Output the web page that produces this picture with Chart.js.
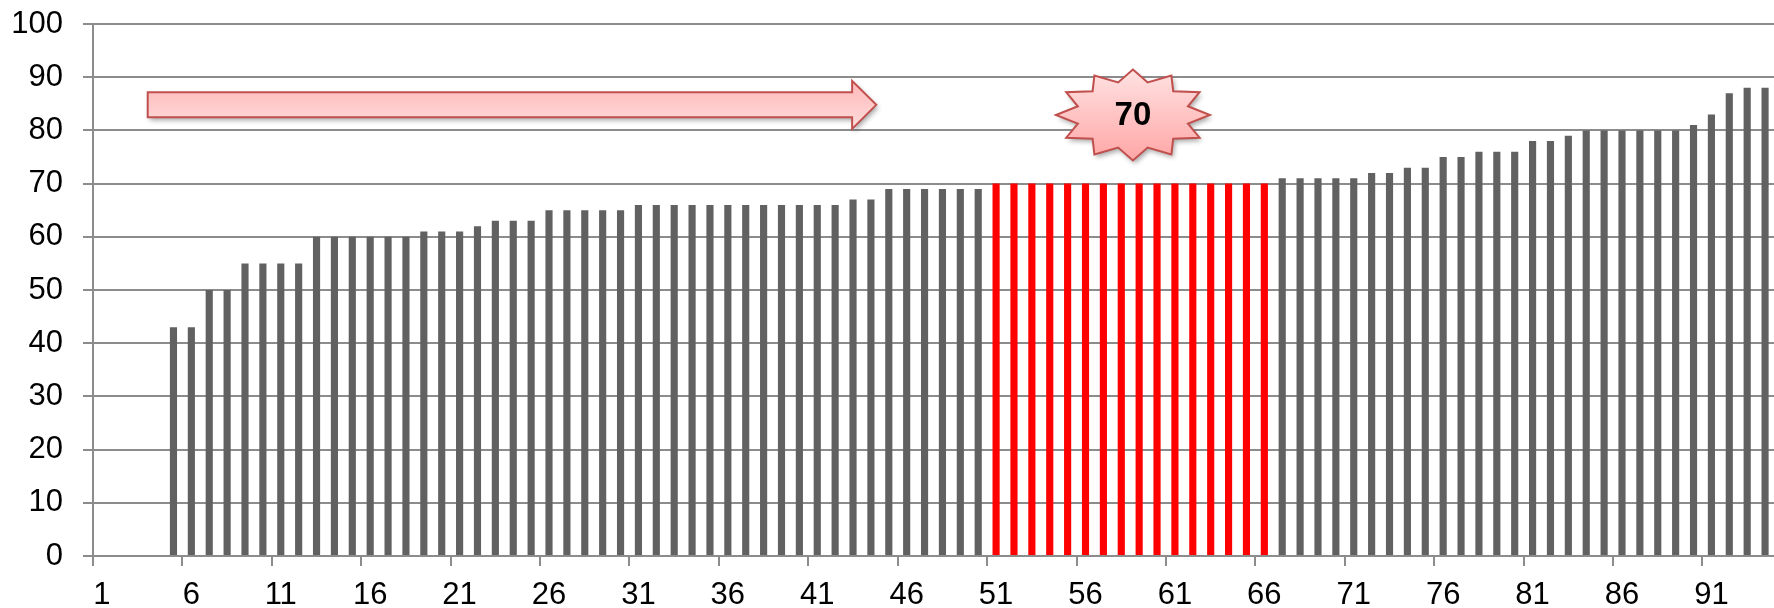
<!DOCTYPE html>
<html>
<head>
<meta charset="utf-8">
<script src="https://cdn.jsdelivr.net/npm/chart.js@4.4.1/dist/chart.umd.min.js"></script>
<style>
    html, body { margin: 0; padding: 0; background: #fff; overflow: hidden; }
    #wrap { width: 1774px; height: 608px; }
</style>
</head>
<body>
<div id="wrap"><canvas id="scoreChart"></canvas></div>
<script>
// Data
const categories = [];
for (let i = 1; i <= 94; i++) categories.push(String(i));

const scores = [
    null, null, null, null, 43, 43, 50, 50, 55, 55,
    55, 55, 60, 60, 60, 60, 60, 60, 61, 61,
    61, 62, 63, 63, 63, 65, 65, 65, 65, 65,
    66, 66, 66, 66, 66, 66, 66, 66, 66, 66,
    66, 66, 67, 67, 69, 69, 69, 69, 69, 69,
    70, 70, 70, 70, 70, 70, 70, 70, 70, 70,
    70, 70, 70, 70, 70, 70, 71, 71, 71, 71,
    71, 72, 72, 73, 73, 75, 75, 76, 76, 76,
    78, 78, 79, 80, 80, 80, 80, 80, 80, 81,
    83, 87, 88, 88
];

const yTicks = [0, 10, 20, 30, 40, 50, 60, 70, 80, 90, 100];
const median = 70;
const medianLabel = '70';

const barColors = scores.map(v => v === median ? '#ff0000' : '#616161');

// Shapes drawn on top: arrow and 12-point star (positions in category index / value units)
const arrowShape = { from: 2.56, headBase: 41.95, tip: 43.3, value: 84.8, bodyHalf: 12.5, headHalf: 24 };
const starShape = { index: 57.65, value: 82.9, rx: 77, ry: 45.5, inner: 0.74 };

function catX(chart, f) {
    const x = chart.scales.x;
    const x0 = x.getPixelForValue(0);
    const step = x.getPixelForValue(1) - x0;
    return x0 + f * step;
}

function dropShadow(ctx) {
    ctx.shadowColor = 'rgba(0,0,0,0.35)';
    ctx.shadowBlur = 5;
    ctx.shadowOffsetX = 2;
    ctx.shadowOffsetY = 3;
}

const shapesPlugin = {
    id: 'shapes',
    afterDraw(chart) {
        const ctx = chart.ctx;
        const y = chart.scales.y;

        // Arrow
        const a = arrowShape;
        const ax0 = catX(chart, a.from);
        const axb = catX(chart, a.headBase);
        const axt = catX(chart, a.tip);
        const ay = y.getPixelForValue(a.value);
        ctx.save();
        ctx.beginPath();
        ctx.moveTo(ax0, ay - a.bodyHalf);
        ctx.lineTo(axb, ay - a.bodyHalf);
        ctx.lineTo(axb, ay - a.headHalf);
        ctx.lineTo(axt, ay);
        ctx.lineTo(axb, ay + a.headHalf);
        ctx.lineTo(axb, ay + a.bodyHalf);
        ctx.lineTo(ax0, ay + a.bodyHalf);
        ctx.closePath();
        let g = ctx.createLinearGradient(0, ay - a.headHalf, 0, ay + a.headHalf);
        g.addColorStop(0, '#ffb8b8');
        g.addColorStop(1, '#ffdcdc');
        dropShadow(ctx);
        ctx.fillStyle = g;
        ctx.fill();
        ctx.shadowColor = 'transparent';
        ctx.lineWidth = 2;
        ctx.strokeStyle = '#c0504d';
        ctx.stroke();
        ctx.restore();

        // Star
        const s = starShape;
        const cx = catX(chart, s.index);
        const cy = y.getPixelForValue(s.value);
        ctx.save();
        ctx.beginPath();
        for (let i = 0; i < 24; i++) {
            const t = i * Math.PI / 12;
            const r = i % 2 === 0 ? 1 : s.inner;
            const px = cx + s.rx * r * Math.sin(t);
            const py = cy - s.ry * r * Math.cos(t);
            if (i === 0) ctx.moveTo(px, py); else ctx.lineTo(px, py);
        }
        ctx.closePath();
        g = ctx.createLinearGradient(0, cy - s.ry, 0, cy + s.ry);
        g.addColorStop(0, '#ffe2e2');
        g.addColorStop(1, '#ffa6a6');
        dropShadow(ctx);
        ctx.fillStyle = g;
        ctx.fill();
        ctx.shadowColor = 'transparent';
        ctx.lineWidth = 2;
        ctx.strokeStyle = '#c0504d';
        ctx.stroke();

        ctx.fillStyle = '#000';
        ctx.font = 'bold 33px "Liberation Sans", Arial, sans-serif';
        ctx.textAlign = 'center';
        ctx.textBaseline = 'middle';
        ctx.fillText(medianLabel, cx, cy + 1);
        ctx.restore();
    }
};

const ctx = document.getElementById('scoreChart').getContext('2d');
new Chart(ctx, {
    type: 'bar',
    data: {
        labels: categories,
        datasets: [{
            data: scores,
            backgroundColor: barColors,
            borderWidth: 0,
            categoryPercentage: 1,
            barPercentage: 0.4
        }]
    },
    options: {
        responsive: true,
        maintainAspectRatio: false,
        animation: false,
        layout: {
            padding: { left: 13, top: 24, right: 0, bottom: 0 }
        },
        plugins: {
            legend: { display: false },
            tooltip: { enabled: false }
        },
        scales: {
            x: {
                afterFit: axis => {
                    axis.height = 52;
                    axis.paddingLeft = 0;
                    axis.paddingRight = 0;
                },
                grid: {
                    drawOnChartArea: false,
                    drawTicks: true,
                    tickLength: 10,
                    lineWidth: 2,
                    color: c => (c.index % 5 === 0 ? '#8c8c8c' : 'transparent')
                },
                border: { display: true, color: '#8c8c8c', width: 2 },
                ticks: {
                    autoSkip: false,
                    maxRotation: 0,
                    padding: 14,
                    color: '#000',
                    font: { family: '"Liberation Sans", Arial, sans-serif', size: 31, lineHeight: 1 },
                    callback: function(value, index) {
                        return index % 5 === 0 ? this.getLabelForValue(value) : '';
                    }
                }
            },
            y: {
                min: 0,
                max: 100,
                afterFit: axis => {
                    axis.width = 80;
                    axis.paddingTop = 0;
                    axis.paddingBottom = 0;
                },
                afterBuildTicks: axis => { axis.ticks = yTicks.map(v => ({ value: v })); },
                grid: {
                    color: '#8c8c8c',
                    lineWidth: 2,
                    tickLength: 10
                },
                border: { display: true, color: '#8c8c8c', width: 2 },
                ticks: {
                    padding: 20,
                    color: '#000',
                    font: { family: '"Liberation Sans", Arial, sans-serif', size: 31, lineHeight: 1 }
                }
            }
        }
    },
    plugins: [shapesPlugin]
});
</script>
</body>
</html>
